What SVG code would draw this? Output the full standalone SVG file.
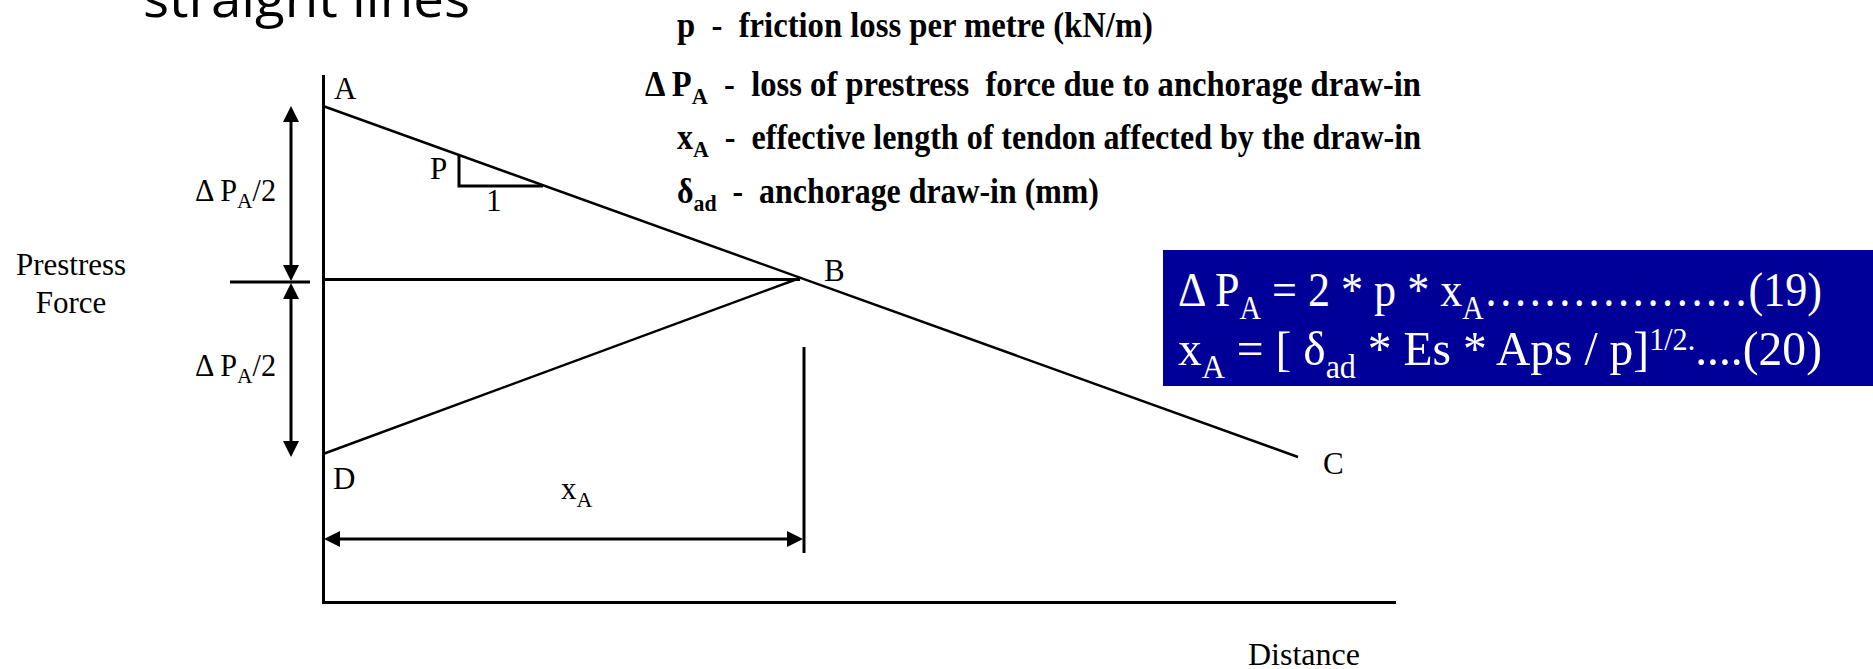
<svg xmlns="http://www.w3.org/2000/svg" width="1873" height="669" viewBox="0 0 1873 669">
<defs>
<marker id="ah" markerUnits="userSpaceOnUse" markerWidth="16" markerHeight="16" refX="8" refY="8" orient="auto-start-reverse" viewBox="0 0 16 16"><path d="M0,0 L16,8 L0,16 z" fill="#000"/></marker>
</defs>
<style>
.ln{stroke:#000;stroke-width:3;fill:none}
.thin{stroke:#000;stroke-width:2.5;fill:none}
.arr{stroke:#000;stroke-width:3;fill:none;marker-start:url(#ah);marker-end:url(#ah)}
.lbl{font-family:"Liberation Serif","Times New Roman",serif;font-size:31px;fill:#000}
.leg{font-family:"Liberation Serif","Times New Roman",serif;font-size:35px;font-weight:bold;fill:#000}
.eq{font-family:"Liberation Serif","Times New Roman",serif;font-size:49px;fill:#fff}
.title{font-family:"Open Sans",sans-serif;font-size:52px;fill:#000}
</style>
<rect width="1873" height="669" fill="#fff"/>
<g id="title"><text class="title" x="143" y="17" textLength="327" lengthAdjust="spacingAndGlyphs">straight lines</text></g>
<g id="legend">
<text class="leg" x="677" y="37" xml:space="preserve" textLength="476" lengthAdjust="spacingAndGlyphs">p  -  friction loss per metre (kN/m)</text>
<text class="leg" x="645" y="96" xml:space="preserve" textLength="776" lengthAdjust="spacingAndGlyphs">Δ P<tspan dy="8" font-size="24">A</tspan><tspan dy="-8">  -  loss of prestress  force due to anchorage draw-in</tspan></text>
<text class="leg" x="677" y="149" xml:space="preserve" textLength="744" lengthAdjust="spacingAndGlyphs">x<tspan dy="8" font-size="24">A</tspan><tspan dy="-8">  -  effective length of tendon affected by the draw-in</tspan></text>
<text class="leg" x="677" y="203" xml:space="preserve" textLength="422" lengthAdjust="spacingAndGlyphs">δ<tspan dy="8" font-size="24">ad</tspan><tspan dy="-8">  -  anchorage draw-in (mm)</tspan></text>
</g>
<g id="axes">
<path class="ln" d="M323.5,75 V602.5 H1396"/>
<text class="lbl" x="71" y="275" text-anchor="middle" font-size="32">Prestress</text>
<text class="lbl" x="71" y="313" text-anchor="middle" font-size="32">Force</text>
<text class="lbl" x="1248" y="665" font-size="33" textLength="112" lengthAdjust="spacingAndGlyphs">Distance</text>
</g>
<g id="connectors">
<path class="thin" d="M323,106 L1298,457"/>
<path class="ln" d="M323,279.5 H800"/>
<path class="thin" d="M323,454 L800,278"/>
<path class="ln" d="M459,155 V186 H543"/>
<path class="ln" d="M804,347 V553"/>
<path class="ln" d="M230,282 H310"/>
<path class="arr" d="M291,114 V273"/>
<path class="arr" d="M291,291 V449"/>
<path class="arr" d="M332,539 H795"/>
</g>
<g id="labels">
<text class="lbl" x="334" y="99">A</text>
<text class="lbl" x="430" y="179" font-size="29">P</text>
<text class="lbl" x="486" y="211" font-size="29">1</text>
<text class="lbl" x="824" y="281">B</text>
<text class="lbl" x="1323" y="474">C</text>
<text class="lbl" x="333" y="489">D</text>
<text class="lbl" x="195" y="201" xml:space="preserve" textLength="81" lengthAdjust="spacingAndGlyphs">Δ P<tspan dy="7" font-size="22">A</tspan><tspan dy="-7">/2</tspan></text>
<text class="lbl" x="195" y="376" xml:space="preserve" textLength="81" lengthAdjust="spacingAndGlyphs">Δ P<tspan dy="7" font-size="22">A</tspan><tspan dy="-7">/2</tspan></text>
<text class="lbl" x="561" y="499">x<tspan dy="8" font-size="22">A</tspan></text>
</g>
<g id="equations">
<rect x="1163" y="250" width="710" height="136" fill="#000099"/>
<text class="eq" x="1178" y="306" xml:space="preserve" textLength="644" lengthAdjust="spacingAndGlyphs">Δ P<tspan dy="13" font-size="33">A</tspan><tspan dy="-13"> = 2 * p * x</tspan><tspan dy="13" font-size="33">A</tspan><tspan dy="-13">………………(19)</tspan></text>
<text class="eq" x="1178" y="365" xml:space="preserve" textLength="644" lengthAdjust="spacingAndGlyphs">x<tspan dy="13" font-size="33">A</tspan><tspan dy="-13"> = [ δ</tspan><tspan dy="13" font-size="33">ad</tspan><tspan dy="-13"> * Es * Aps / p]</tspan><tspan dy="-15" font-size="31">1/2.</tspan><tspan dy="15">....(20)</tspan></text>
</g>
</svg>
